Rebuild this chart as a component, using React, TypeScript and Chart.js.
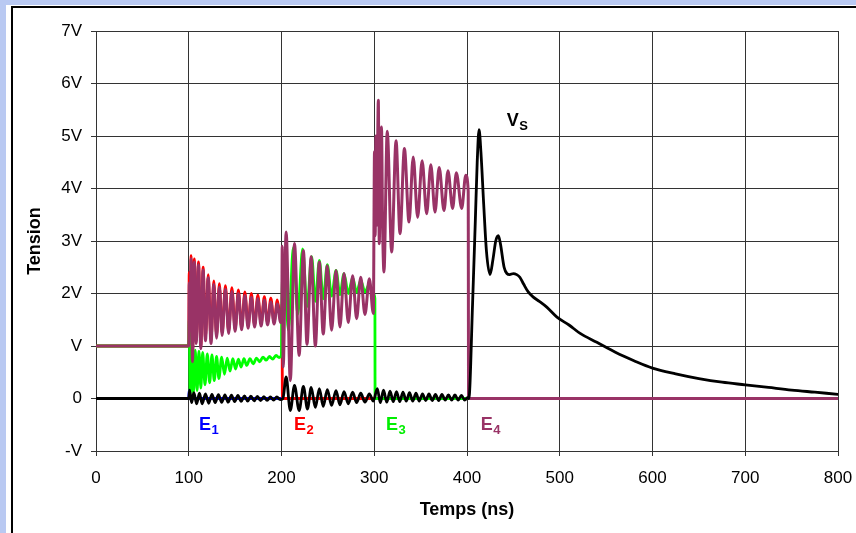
import React, { useEffect, useRef } from "react";
import { Chart, registerables } from "chart.js";

Chart.register(...registerables);

// ---- Data (time in ns, tension in units of V) ----
const xTickValues = [0, 100, 200, 300, 400, 500, 600, 700, 800];
const yTickLabels = ["-V", "0", "V", "2V", "3V", "4V", "5V", "6V", "7V"];

// E1 (blue)
const e1Points: [number, number][] = [
  [0, 0], [100, 0], [100.4, 0.15], [101, 0], [800, 0],
];

// E2 (red)
const e2Points: [number, number][] = [
  [0, 1], [100, 1], [100.5, 2.4], [101.5, 1.4], [102.5, 2.72], [104, 0.8], [106, 2.66],
  [108, 1.1], [110.5, 2.6], [113, 1.0], [115.5, 2.5], [118, 1.15], [121, 2.36], [124, 1.1],
  [127, 2.24], [130, 1.2], [133, 2.19], [136, 1.25], [139.5, 2.15], [143, 1.28], [146.5, 2.11],
  [150, 1.32], [153.5, 2.07], [157, 1.35], [160.5, 2.03], [164, 1.38], [167.5, 2.0], [171, 1.4],
  [174.5, 1.97], [178, 1.42], [181.5, 1.94], [185, 1.44], [188.5, 1.91], [192, 1.45],
  [195.5, 1.88], [199, 1.5], [200.5, 1.8], [201, 0], [800, 0],
];

// E3 (green)
const e3Points: [number, number][] = [
  [0, 1], [100, 1], [100.5, 1.5], [101.5, 0.05], [103, 0.95], [105, 0.1], [107, 0.92],
  [109, 0.15], [111, 0.9], [113, 0.2], [115, 0.88], [117.5, 0.26], [120, 0.85], [122.5, 0.3],
  [125, 0.83], [127.5, 0.34], [130, 0.8], [132.5, 0.38], [135.5, 0.79], [138.5, 0.46],
  [141.5, 0.77], [144.5, 0.52], [147.5, 0.76], [150.5, 0.56], [153.5, 0.75], [156.5, 0.6],
  [159.5, 0.76], [162.5, 0.63], [166, 0.76], [169.5, 0.66], [173, 0.77], [176.5, 0.7],
  [180, 0.79], [183.5, 0.73], [187, 0.8], [190.5, 0.75], [194, 0.82], [197.5, 0.78],
  [199.8, 0.82], [200.5, 1.9], [202.7, 2.57], [207.5, 1.3], [212.8, 2.88], [217.5, 1.6],
  [222.8, 2.85], [227.5, 1.75], [232.5, 2.7], [236.5, 1.85], [240.8, 2.63], [245, 1.9],
  [249.4, 2.55], [254, 1.95], [258.8, 2.44], [263, 1.98], [267.4, 2.38], [272, 2.0],
  [276.7, 2.3], [281, 2.02], [285.4, 2.25], [290, 2.03], [294.7, 2.18], [299, 2.0],
  [300.7, 1.9], [300.9, 0], [800, 0],
];

// E4 (purple)
const e4Points: [number, number][] = [
  [0, 1], [100, 1], [100.6, 2.2], [101.5, 1.3], [102.5, 2.66], [104, 0.7], [106, 2.6],
  [108, 1.05], [110.5, 2.55], [113, 0.95], [115.5, 2.45], [118, 1.1], [121, 2.3], [124, 1.05],
  [127, 2.17], [130, 1.15], [133, 2.12], [136, 1.2], [139.5, 2.08], [143, 1.24], [146.5, 2.04],
  [150, 1.28], [153.5, 2.0], [157, 1.31], [160.5, 1.96], [164, 1.34], [167.5, 1.93], [171, 1.36],
  [174.5, 1.9], [178, 1.38], [181.5, 1.87], [185, 1.4], [188.5, 1.84], [192, 1.42],
  [195.5, 1.8], [199, 1.45], [200.3, 1.75], [200.8, 2.9], [201.8, 0.6], [205, 3.17],
  [209.5, 0.34], [214, 2.95], [219, 0.82], [223.6, 2.82], [227.5, 1.03], [232, 2.7],
  [236.5, 1.0], [240.8, 2.6], [245, 1.23], [249.4, 2.53], [254, 1.3], [258.8, 2.44],
  [263, 1.36], [267.4, 2.38], [272, 1.45], [276.7, 2.34], [281, 1.52], [285.4, 2.31],
  [290, 1.6], [294.7, 2.28], [299, 1.62], [300.3, 4.7], [301, 3.1], [301.8, 5.0], [302.6, 3.3],
  [303.4, 4.4], [304.4, 5.68], [305.4, 2.95], [306.5, 4.2], [307.8, 5.17], [309, 3.3],
  [310.5, 2.41], [314, 5.09], [318.8, 2.79], [323.5, 4.91], [327.8, 3.14], [332.5, 4.76],
  [337.5, 3.36], [342, 4.6], [346.8, 3.45], [351.6, 4.53], [356.5, 3.52], [361, 4.45],
  [365.5, 3.55], [370, 4.4], [375.2, 3.58], [379.5, 4.34], [384.5, 3.62], [388.5, 4.3],
  [394.3, 3.62], [398.6, 4.25], [401.3, 3.95], [401.7, 0], [800, 0],
];

// Vs (black)
const vsPoints: [number, number][] = [
  [0, 0], [100, 0], [101, 0.16], [103, -0.08], [105.5, 0.11], [108.5, -0.1], [111.5, 0.1],
  [114.5, -0.1], [118, 0.09], [121.5, -0.09], [125, 0.08], [128.5, -0.08], [132, 0.075],
  [135.5, -0.075], [139, 0.07], [142.5, -0.07], [146, 0.065], [149.5, -0.06], [153, 0.06],
  [156.5, -0.055], [160, 0.05], [163.5, -0.05], [167, 0.045], [170.5, -0.045], [174, 0.04],
  [177.5, -0.04], [181, 0.035], [184.5, -0.035], [188, 0.03], [191.5, -0.03], [195, 0.03],
  [198.5, -0.02], [201.5, 0], [205, 0.41], [209.5, -0.23], [214, 0.25], [219, -0.23],
  [223.6, 0.23], [228, -0.2], [232, 0.21], [236.5, -0.17], [240.8, 0.19], [245, -0.15],
  [249.4, 0.17], [254, -0.13], [258.8, 0.15], [263, -0.12], [267.4, 0.13], [272, -0.1],
  [276.7, 0.12], [281, -0.08], [285.4, 0.1], [290, -0.07], [294.7, 0.09], [299, -0.05],
  [303.3, 0.19], [306.5, -0.08], [310, 0.16], [313.5, -0.07], [317, 0.14], [320.5, -0.06],
  [324, 0.13], [327.5, -0.06], [331, 0.12], [334.5, -0.05], [338, 0.11], [341.5, -0.05],
  [345, 0.1], [348.5, -0.05], [352, 0.09], [355.5, -0.04], [359, 0.09], [362.5, -0.04],
  [366, 0.08], [369.5, -0.04], [373, 0.08], [376.5, -0.03], [380, 0.07], [383.5, -0.03],
  [387, 0.07], [390.5, -0.03], [394, 0.06], [397.5, -0.03], [401, 0.02], [402, 0],
  [406, 1.8], [409, 3.4], [411, 4.5], [413, 5.12], [415, 4.7], [418, 3.7], [421, 2.8],
  [424.8, 2.36], [428, 2.65], [431, 3.0], [433.8, 3.1], [436, 2.95], [440, 2.5], [443, 2.38],
  [446, 2.36], [450, 2.38], [453.6, 2.36], [457, 2.31], [461, 2.18], [466, 2.03],
  [471.5, 1.93], [478, 1.85], [486, 1.74], [497, 1.55], [510, 1.4], [522, 1.24], [540, 1.07],
  [560, 0.88], [580, 0.72], [600, 0.58], [625, 0.47], [650, 0.38], [675, 0.31], [700, 0.26],
  [725, 0.21], [750, 0.16], [775, 0.12], [800, 0.08],
];

// Series name labels: [main, subscript, colour, time, tension]
const seriesLabels: [string, string, string, number, number][] = [
  ["E", "1", "#0000FF", 111, -0.6],
  ["E", "2", "#FF0000", 213.5, -0.6],
  ["E", "3", "#00EE00", 312.7, -0.6],
  ["E", "4", "#993366", 414.8, -0.6],
  ["V", "S", "#000000", 442.8, 5.2],
];

const FONT = "'Liberation Sans', Arial, Helvetica, sans-serif";

const toXY = (pts: [number, number][]) => pts.map(([x, y]) => ({ x, y }));

const labelPlugin = {
  id: "seriesLabels",
  afterDraw(chart: any) {
    const { ctx, scales } = chart;
    ctx.save();
    ctx.textBaseline = "alphabetic";
    ctx.textAlign = "left";
    for (const [main, sub, color, t, v] of seriesLabels) {
      const px = scales.x.getPixelForValue(t);
      const py = scales.y.getPixelForValue(v);
      ctx.fillStyle = color;
      ctx.font = `bold 18px ${FONT}`;
      ctx.fillText(main, px, py);
      const w = ctx.measureText(main).width;
      ctx.font = `bold 13px ${FONT}`;
      ctx.fillText(sub, px + w + 0.5, py + 4);
    }
    ctx.restore();
  },
};

export default function App() {
  const ref = useRef<HTMLCanvasElement>(null);

  useEffect(() => {
    if (!ref.current) return;
    const line = (label: string, pts: [number, number][], color: string, width = 2.8) => ({
      label,
      data: toXY(pts),
      borderColor: color,
      backgroundColor: color,
      borderWidth: width,
      pointRadius: 0,
      fill: false,
      cubicInterpolationMode: "monotone" as const,
      borderJoinStyle: "round" as const,
      borderCapStyle: "round" as const,
    });
    const chart = new Chart(ref.current, {
      type: "line",
      data: {
        datasets: [
          line("Vs", vsPoints, "#000000"),
          line("E4", e4Points, "#993366", 3),
          line("E3", e3Points, "#00FF00"),
          line("E2", e2Points, "#FF0000"),
          line("E1", e1Points, "#0000FF"),
        ],
      },
      options: {
        animation: false,
        responsive: false,
        maintainAspectRatio: false,
        layout: { padding: { left: 0, right: 18, top: 31, bottom: 0 } },
        plugins: {
          legend: { display: false },
          tooltip: { enabled: false },
        },
        scales: {
          x: {
            type: "linear",
            min: 0,
            max: 800,
            afterFit: (s: any) => {
              s.height = 82;
              s.paddingLeft = 0;
              s.paddingRight = 0;
            },
            afterBuildTicks: (s: any) => {
              s.ticks = xTickValues.map((value) => ({ value }));
            },
            ticks: {
              color: "#000",
              font: { family: FONT, size: 17 },
              padding: 12,
              maxRotation: 0,
              autoSkip: false,
            },
            grid: { color: "#333", lineWidth: 1, tickLength: 5, tickColor: "#333" },
            border: { color: "#333", width: 1 },
            title: {
              display: true,
              text: "Temps (ns)",
              color: "#000",
              font: { family: FONT, size: 18, weight: "bold" },
              padding: { top: 0, bottom: 12 },
            },
          },
          y: {
            type: "linear",
            min: -1,
            max: 7,
            afterFit: (s: any) => {
              s.width = 96;
              s.paddingTop = 0;
              s.paddingBottom = 0;
            },
            ticks: {
              stepSize: 1,
              color: "#000",
              font: { family: FONT, size: 17 },
              padding: 9,
              callback: (v: any) => yTickLabels[Math.round(Number(v)) + 1] ?? "",
            },
            grid: { color: "#333", lineWidth: 1, tickLength: 5, tickColor: "#333" },
            border: { color: "#333", width: 1 },
            title: {
              display: true,
              text: "Tension",
              color: "#000",
              font: { family: FONT, size: 18, weight: "bold" },
              padding: { top: 24, bottom: 0 },
            },
          },
        },
      },
      plugins: [labelPlugin],
    });
    return () => chart.destroy();
  }, []);

  return (
    <div
      style={{
        position: "fixed",
        left: 0,
        top: 0,
        width: 856,
        height: 533,
        overflow: "hidden",
        background: "#b9c9f2",
      }}
    >
      <div
        style={{
          position: "absolute",
          left: 6,
          top: 5,
          width: 900,
          height: 600,
          background: "#ffffff",
        }}
      />
      <div
        style={{
          position: "absolute",
          left: 11,
          top: 6,
          width: 900,
          height: 600,
          borderLeft: "2px solid #000",
          borderTop: "2px solid #000",
        }}
      />
      <canvas
        ref={ref}
        width={856}
        height={533}
        style={{ position: "absolute", left: 0, top: 0, width: 856, height: 533 }}
      />
    </div>
  );
}
